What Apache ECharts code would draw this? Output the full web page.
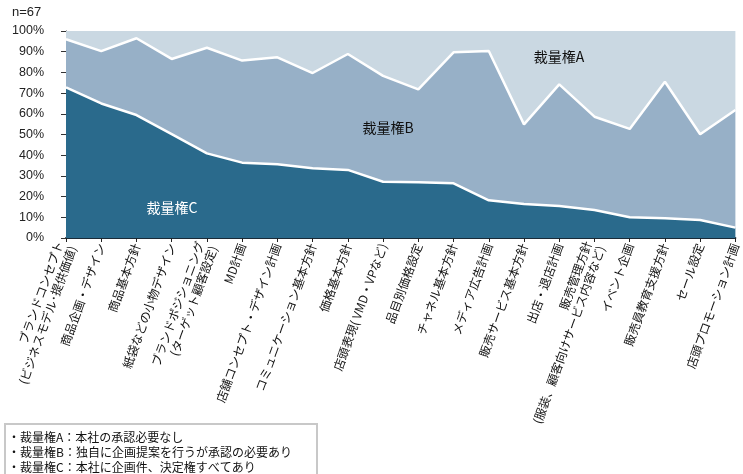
<!DOCTYPE html>
<html><head><meta charset="utf-8">
<script src="https://cdn.jsdelivr.net/npm/echarts@6/dist/echarts.min.js"></script>
<style>html,body{margin:0;padding:0;background:#fff}#c{width:743px;height:474px}</style>
</head><body><div id="c"></div>
<script>
const categories = [
  'ブランドコンセプト\n(ビジネスモデル･提供価値)',
  '商品企画・デザイン',
  '商品基本方針',
  '紙袋などの小物デザイン',
  'ブランドポジショニング\n(ターゲット顧客設定)',
  'MD計画',
  '店舗コンセプト・デザイン計画',
  'コミュニケーション基本方針',
  '価格基本方針',
  '店頭表現( VMD・VPなど)',
  '品目別価格設定',
  'チャネル基本方針',
  'メディア広告計画',
  '販売サービス基本方針',
  '出店・退店計画',
  '販売管理方針\n(服装、顧客向けサービス内容など)',
  'イベント企画',
  '販売員教育支援方針',
  'セール設定',
  '店頭プロモーション計画'
];
const seriesC = [72.8, 65.0, 59.4, 50.2, 40.9, 36.4, 35.6, 33.7, 32.9, 27.2, 26.9, 26.4, 18.2, 16.4, 15.5, 13.5, 10.0, 9.5, 8.7, 5.0];
const seriesB = [23.2, 25.3, 37.1, 36.3, 51.0, 49.3, 51.7, 46.0, 56.0, 51.1, 44.9, 63.3, 72.1, 38.5, 58.7, 45.1, 42.7, 66.0, 41.4, 56.8];
const seriesA = [4.0, 9.7, 3.5, 13.5, 8.1, 14.3, 12.7, 20.3, 11.1, 21.7, 28.2, 10.3, 9.7, 45.1, 25.8, 41.4, 47.3, 24.5, 49.9, 38.2];
const legendLines = [
  '・裁量権A：本社の承認必要なし',
  '・裁量権B：独自に企画提案を行うが承認の必要あり',
  '・裁量権C：本社に企画件、決定権すべてあり'
];

const chart = echarts.init(document.getElementById('c'));
const jp = '"Noto Sans CJK JP", "Liberation Sans", sans-serif';
chart.setOption({
  animation: false,
  grid: {left: 66, right: 5, top: 31, bottom: 236},
  xAxis: {
    type: 'category', data: categories, boundaryGap: false,
    axisLine: {lineStyle: {color: '#1a2b38', width: 2}},
    axisTick: {show: true, alignWithLabel: true, length: 4, lineStyle: {color: '#222'}},
    axisLabel: {rotate: 70, interval: 0, fontSize: 12, color: '#111', fontFamily: jp, margin: 6, lineHeight: 14}
  },
  yAxis: {
    type: 'value', min: 0, max: 100, interval: 10,
    axisLine: {show: true, lineStyle: {color: '#333', width: 1}},
    axisTick: {show: true, length: 5, lineStyle: {color: '#333'}},
    splitLine: {show: false},
    axisLabel: {formatter: '{value}%', fontSize: 12.5, color: '#222', fontFamily: 'Liberation Sans, sans-serif', margin: 22}
  },
  series: [
    {name: '裁量権C', type: 'line', stack: 's', data: seriesC, showSymbol: false, z: 5,
     lineStyle: {color: '#ffffff', width: 2.5}, areaStyle: {color: '#2a6a8c', opacity: 1}, itemStyle: {color: '#2a6a8c'}},
    {name: '裁量権B', type: 'line', stack: 's', data: seriesB, showSymbol: false, z: 4,
     lineStyle: {color: '#ffffff', width: 2.5}, areaStyle: {color: '#97b0c7', opacity: 1}, itemStyle: {color: '#97b0c7'}},
    {name: '裁量権A', type: 'line', stack: 's', data: seriesA, showSymbol: false, z: 3,
     lineStyle: {width: 0}, areaStyle: {color: '#cad8e2', opacity: 1}, itemStyle: {color: '#cad8e2'}}
  ],
  graphic: [
    {type: 'text', left: 12, top: 6, style: {text: 'n=67', font: '13px "Liberation Sans", sans-serif', fill: '#222'}},
    {type: 'text', x: 172, y: 208, style: {text: '裁量権C', font: '14px ' + jp, fill: '#ffffff', align: 'center', verticalAlign: 'middle'}, z: 10},
    {type: 'text', x: 388, y: 128, style: {text: '裁量権B', font: '14px ' + jp, fill: '#111', align: 'center', verticalAlign: 'middle'}, z: 10},
    {type: 'text', x: 559, y: 57, style: {text: '裁量権A', font: '14px ' + jp, fill: '#111', align: 'center', verticalAlign: 'middle'}, z: 10},
    {type: 'rect', shape: {x: 5, y: 424, width: 312, height: 54}, style: {fill: '#fff', stroke: '#c8c8c8', lineWidth: 2}},
    {type: 'text', x: 8, y: 437, style: {text: legendLines[0], font: '12px ' + jp, fill: '#111', verticalAlign: 'middle'}},
    {type: 'text', x: 8, y: 452, style: {text: legendLines[1], font: '12px ' + jp, fill: '#111', verticalAlign: 'middle'}},
    {type: 'text', x: 8, y: 467, style: {text: legendLines[2], font: '12px ' + jp, fill: '#111', verticalAlign: 'middle'}}
  ]
});
</script></body></html>
